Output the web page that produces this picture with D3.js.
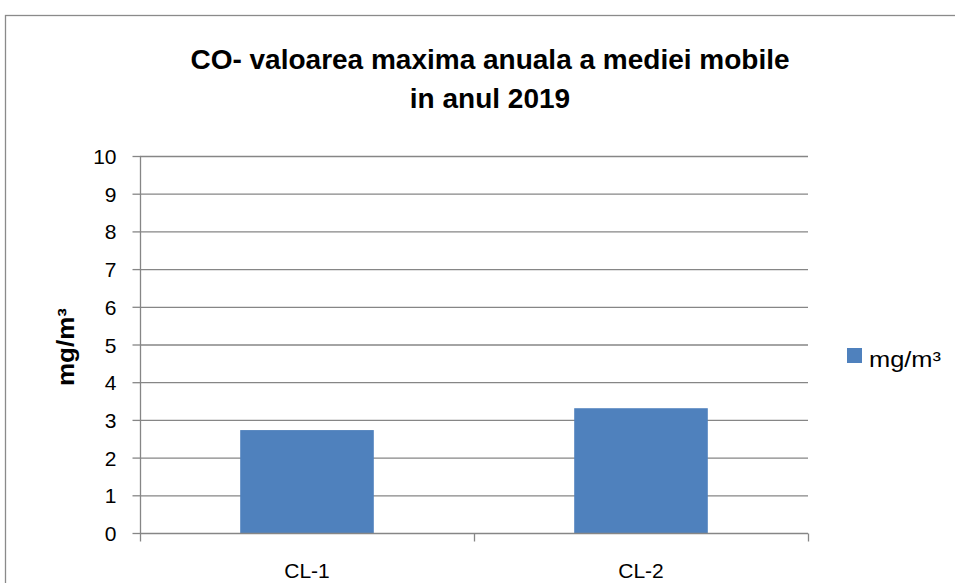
<!DOCTYPE html>
<html><head><meta charset="utf-8">
<script src="https://cdn.jsdelivr.net/npm/d3@7/dist/d3.min.js"></script>
<style>body{margin:0;background:#fff}svg{display:block}</style>
</head><body>
<svg id="c" width="955" height="583"></svg>
<script>
const categories = ["CL-1", "CL-2"];
const values = [2.73, 3.31];
const yTicks = [0,1,2,3,4,5,6,7,8,9,10];
const titleLines = ["CO- valoarea maxima anuala a mediei mobile", "in anul 2019"];
const seriesName = "mg/m³";
const yLabel = "mg/m³";

const svg = d3.select("#c");
const font = "'Liberation Sans', Arial, sans-serif";
const grid = "#868686";
const barColor = "#4f81bd";

// outer border
svg.append("rect").attr("x",5.5).attr("y",15.5).attr("width",1000).attr("height",1000)
  .attr("fill","none").attr("stroke","#8a8a8a").attr("stroke-width",1.3);

const L=140, R=808, T=156, B=533;
const x = d3.scaleBand().domain(categories).range([L,R]).paddingInner(0.6).paddingOuter(0.3);
const y = d3.scaleLinear().domain([0,10]).range([B,T]);

// gridlines
svg.append("g").selectAll("line").data(yTicks.filter(d=>d>0)).join("line")
  .attr("x1",L).attr("x2",R).attr("y1",d=>y(d)+0.5).attr("y2",d=>y(d)+0.5)
  .attr("stroke",grid).attr("stroke-width",1.3);

// bars
svg.append("g").selectAll("rect").data(values).join("rect")
  .attr("x",(d,i)=>x(categories[i])).attr("width",x.bandwidth())
  .attr("y",d=>y(d)).attr("height",d=>B-y(d)).attr("fill",barColor);

// y axis
const ya = svg.append("g").attr("transform",`translate(${L+0.5},0)`)
  .call(d3.axisLeft(y).tickValues(yTicks).tickSize(8).tickPadding(16));
ya.select(".domain").attr("stroke",grid).attr("stroke-width",1.3).attr("d",`M0,${T}V${B}`);
ya.selectAll(".tick line").attr("stroke",grid).attr("stroke-width",1.3);
ya.selectAll(".tick text").attr("font-family",font).attr("font-size",21).attr("fill","#000").attr("dy","0.36em");

// x axis
const xa = svg.append("g").attr("transform",`translate(0,${B+0.5})`);
xa.append("line").attr("x1",L).attr("x2",R).attr("stroke",grid).attr("stroke-width",1.3);
const step = x.step();
const bounds = [L, L+step, R];
xa.selectAll(".tk").data(bounds).join("line").attr("class","tk")
  .attr("x1",d=>d+0.5).attr("x2",d=>d+0.5).attr("y1",0).attr("y2",8)
  .attr("stroke",grid).attr("stroke-width",1.3);
xa.selectAll("text").data(categories).join("text")
  .attr("x",d=>x(d)+x.bandwidth()/2).attr("y",44)
  .attr("text-anchor","middle").attr("font-family",font).attr("font-size",21).text(d=>d);

// title
svg.append("g").selectAll("text").data(titleLines).join("text")
  .attr("x",490).attr("y",(d,i)=>69+i*39).attr("text-anchor","middle")
  .attr("font-family",font).attr("font-weight","bold").attr("font-size",28).text(d=>d);

// y label
svg.append("text").attr("transform","translate(74,347) rotate(-90)")
  .attr("text-anchor","middle").attr("font-family",font).attr("font-weight","bold")
  .attr("font-size",23).attr("textLength",78).attr("lengthAdjust","spacingAndGlyphs").text(yLabel);

// legend
svg.append("rect").attr("x",847).attr("y",348).attr("width",15).attr("height",15).attr("fill",barColor);
svg.append("text").attr("x",869).attr("y",367).attr("font-family",font).attr("font-size",22)
  .attr("textLength",72).attr("lengthAdjust","spacingAndGlyphs").text(seriesName);
</script>
</body></html>
